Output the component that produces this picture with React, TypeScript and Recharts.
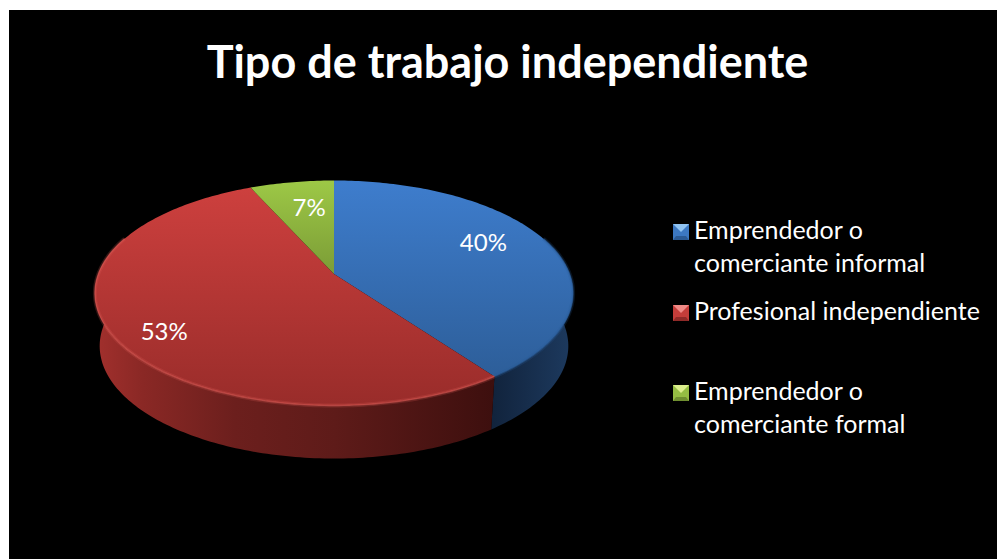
import React from 'react';
import { PieChart, Pie, Legend } from 'recharts';

const categories = ['Emprendedor o comerciante informal', 'Profesional independiente', 'Emprendedor o comerciante formal'];
const values = [40, 53.3, 6.7];
const chartTitle = 'Tipo de trabajo independiente';

const topColors = [['#3e7dcd', '#2d5e99'], ['#cd403e', '#992c2a'], ['#9dc846', '#7b9c36']];
const rimColors = ['#2a5a95', '#dc5a55', '#a9d450'];
const swatchColors = [['#8fc3f2', '#3c78c2', '#2b5a94'], ['#f08a86', '#c43d3a', '#8f2a28'], ['#dcee8c', '#95bd43', '#6f8e30']];
const labelNudges = [[-2, -10], [-18, 16], [6, 0]];

const tableData = categories.map((name, idx) => ({ name, value: values[idx], idx }));

// the pie is tilted, so the slices are projected by hand from the angles recharts gives
const SQUASH = 0.4707;
const WIDTH_K = 0.986;
const PERSPECTIVE = -0.169;
const APEX_SHIFT = -19;
const DEPTH = 53;
const BOTTOM_SCALE = 0.98;

const project = (cx: number, cy: number, r: number, theta: number, f = 1) => {
  const rad = (theta * Math.PI) / 180;
  const u = f * Math.sin(rad);
  const v = -f * Math.cos(rad);
  const d = 1 + PERSPECTIVE * v;
  return {
    x: cx + (r * WIDTH_K * u) / d,
    y: cy + (r * SQUASH * v + APEX_SHIFT) / d,
  };
};

const arc = (cx: number, cy: number, r: number, from: number, to: number) => {
  const pts = [];
  const steps = Math.max(2, Math.ceil(to - from));
  for (let i = 0; i <= steps; i++) {
    pts.push(project(cx, cy, r, from + ((to - from) * i) / steps));
  }
  return pts;
};

const toPath = (pts: { x: number; y: number }[]) =>
  pts.map((p, i) => `${i === 0 ? 'M' : 'L'}${p.x.toFixed(2)},${p.y.toFixed(2)}`).join(' ');

const TopSlice = (props: any) => {
  const { cx, cy, outerRadius, startAngle, endAngle, payload } = props;
  const from = 90 - startAngle;
  const to = 90 - endAngle;
  const apex = project(cx, cy, outerRadius, 0, 0);
  const rim = arc(cx, cy, outerRadius, from, to);
  const front = [Math.max(from, 70), Math.min(to, 290)];
  const idx = payload.idx;
  const frontPath = front[0] < front[1] ? toPath(arc(cx, cy, outerRadius, front[0], front[1])) : null;
  return (
    <g>
      <path d={`${toPath([apex, ...rim])} Z`} fill={`url(#top${idx})`} />
      {frontPath && (
        <g fill="none" stroke={rimColors[idx]}>
          <path d={frontPath} strokeWidth={4} strokeOpacity={0.22} />
          <path d={frontPath} strokeWidth={1.4} strokeOpacity={0.6} />
        </g>
      )}
    </g>
  );
};

const WallSlice = (props: any) => {
  const { cx, cy, outerRadius, startAngle, endAngle, payload } = props;
  const from = Math.max(90 - startAngle, 70);
  const to = Math.min(90 - endAngle, 290);
  if (from >= to) return null;
  const upper = arc(cx, cy, outerRadius, from, to);
  const lower = upper
    .map((p) => ({ x: cx + (p.x - cx) * BOTTOM_SCALE, y: p.y + DEPTH }))
    .reverse();
  return <path d={`${toPath([...upper, ...lower])} Z`} fill={`url(#wall${payload.idx})`} />;
};

const SliceLabel = (props: any) => {
  const { cx, cy, outerRadius, midAngle, percent, payload } = props;
  const p = project(cx, cy, outerRadius, 90 - midAngle, 0.7);
  const nudge = labelNudges[payload.idx];
  return (
    <text
      x={p.x + nudge[0]}
      y={p.y + nudge[1]}
      fill="#ffffff"
      fontSize={24}
      fontFamily="Lato, sans-serif"
      textAnchor="middle"
      dominantBaseline="central"
    >
      {`${Math.round(percent * 100)}%`}
    </text>
  );
};

const LegendBox = ({ payload }: any) => (
  <div style={{ fontFamily: 'Lato, sans-serif', fontSize: 25, color: '#fff', lineHeight: '33px' }}>
    {(payload || []).slice(0, categories.length).map((item: any, i: number) => {
      const [light, mid, dark] = swatchColors[i];
      return (
        <div key={i} style={{ height: 80.5, display: 'flex' }}>
          <svg width={16} height={16} style={{ marginTop: 11, marginRight: 5, flexShrink: 0 }}>
            <rect width={16} height={16} fill={mid} />
            <polygon points="0,0 16,0 8,8" fill={light} />
            <polygon points="0,16 16,16 13,12 3,12" fill={dark} />
          </svg>
          <span>{item.value}</span>
        </div>
      );
    })}
  </div>
);

export default function App() {
  return (
    <div style={{ position: 'absolute', left: 9, top: 10, width: 988, height: 549, background: '#000', overflow: 'hidden' }}>
      <PieChart width={988} height={549} margin={{ top: 0, right: 0, bottom: 0, left: 0 }}>
        <defs>
          {topColors.map((c, i) => (
            <linearGradient key={i} id={`top${i}`} x1="0" y1="0" x2="0" y2="1">
              <stop offset="0%" stopColor={c[0]} />
              <stop offset="100%" stopColor={c[1]} />
            </linearGradient>
          ))}
          <linearGradient id="wall0" x1="0" y1="0" x2="1" y2="0">
            <stop offset="0%" stopColor="#11233c" />
            <stop offset="100%" stopColor="#1d3a5f" />
          </linearGradient>
          <linearGradient id="wall1" x1="0" y1="0" x2="1" y2="0">
            <stop offset="0%" stopColor="#a2302d" />
            <stop offset="12%" stopColor="#8a2825" />
            <stop offset="35%" stopColor="#6c1f1d" />
            <stop offset="60%" stopColor="#5e1b19" />
            <stop offset="100%" stopColor="#3d0f0e" />
          </linearGradient>
        </defs>
        <text
          x={498.5}
          y={68}
          fill="#ffffff"
          fontSize={45}
          fontWeight={700}
          fontFamily="Lato, sans-serif"
          textAnchor="middle"
        >
          {chartTitle}
        </text>
        <Pie
          data={tableData}
          dataKey="value"
          nameKey="name"
          cx={325}
          cy={283}
          outerRadius={239}
          startAngle={90}
          endAngle={-270}
          stroke="none"
          legendType="none"
          shape={WallSlice}
          isAnimationActive={false}
        />
        <Pie
          data={tableData}
          dataKey="value"
          nameKey="name"
          cx={325}
          cy={283}
          outerRadius={239}
          startAngle={90}
          endAngle={-270}
          stroke="none"
          shape={TopSlice}
          label={SliceLabel}
          labelLine={false}
          isAnimationActive={false}
        />
        <Legend
          layout="vertical"
          content={LegendBox}
          itemSorter={null}
          wrapperStyle={{ position: 'absolute', left: 664, top: 203, width: 315, margin: 0 }}
        />
      </PieChart>
    </div>
  );
}
